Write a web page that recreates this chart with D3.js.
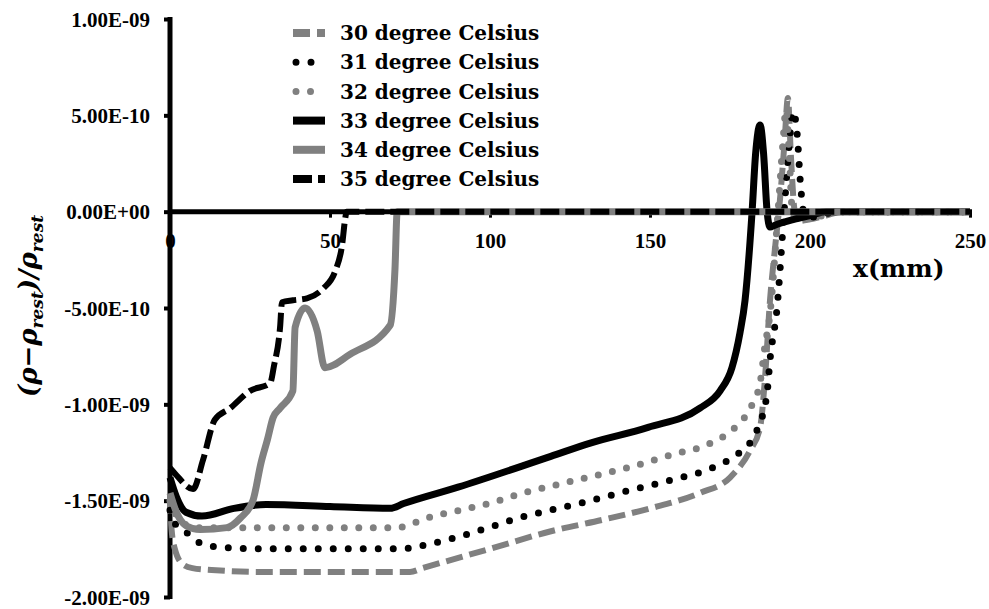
<!DOCTYPE html>
<html>
<head>
<meta charset="utf-8">
<script src="https://cdn.jsdelivr.net/npm/d3@7/dist/d3.min.js"></script>
<style>
  html, body { margin: 0; padding: 0; background: #fff; }
  svg { display: block; }
</style>
</head>
<body>
<svg id="chart" width="989" height="609"></svg>
<script>
// ---------------- DATA ----------------
// x in mm, y = (rho - rho_rest)/rho_rest
const seriesNames = ["30 degree Celsius", "31 degree Celsius", "32 degree Celsius",
                     "33 degree Celsius", "34 degree Celsius", "35 degree Celsius"];

const x30 = [0, 0.5, 1.5, 4, 7, 13, 30, 50, 75, 79, 100, 118.75, 135, 150, 165.6, 175, 181.25, 184.4, 186, 187.5, 189, 190.6, 192, 193.1, 194, 195, 196, 200, 205, 210, 250];
const y30 = [-14.8e-10, -16.5e-10, -17.5e-10, -18.3e-10, -18.5e-10, -18.6e-10, -18.7e-10, -18.7e-10, -18.7e-10, -18.5e-10, -17.5e-10, -16.6e-10, -16.0e-10, -15.4e-10, -14.6e-10, -13.8e-10, -12.4e-10, -11.2e-10, -8.5e-10, -4.6e-10, -2.0e-10, 0.6e-10, 3.5e-10, 5.9e-10, 3.0e-10, 0.3e-10, -0.5e-10, -0.4e-10, -0.2e-10, 0, 0];

const x31 = [0, 2, 5.6, 9.4, 14.7, 30, 50, 72, 75.6, 79.7, 89.7, 99.4, 109, 118.75, 128.9, 142.8, 157.2, 167.8, 177.2, 181.25, 183.75, 186.6, 187.5, 189.7, 191.9, 193.5, 194.7, 196, 197, 198, 200, 205, 210, 250];
const y31 = [-15.5e-10, -16.3e-10, -16.7e-10, -17.2e-10, -17.4e-10, -17.5e-10, -17.5e-10, -17.5e-10, -17.45e-10, -17.3e-10, -16.9e-10, -16.4e-10, -15.9e-10, -15.5e-10, -15.1e-10, -14.5e-10, -13.9e-10, -13.4e-10, -12.6e-10, -12.0e-10, -11.2e-10, -9.4e-10, -7.7e-10, -5.0e-10, 0, 3.5e-10, 5.2e-10, 4.0e-10, 1.5e-10, 0, -0.3e-10, -0.1e-10, 0, 0];

const x32 = [0, 3, 8, 20, 50, 70.9, 75.6, 80.3, 90.6, 100.6, 110.3, 120.3, 130.3, 142.8, 157.2, 167.8, 176.6, 180.3, 182.5, 184.4, 185.9, 187.5, 190, 191.5, 192.5, 193.5, 194.5, 196, 202, 208, 250];
const y32 = [-15.0e-10, -16.0e-10, -16.4e-10, -16.4e-10, -16.4e-10, -16.4e-10, -16.2e-10, -15.9e-10, -15.5e-10, -15.1e-10, -14.6e-10, -14.2e-10, -13.8e-10, -13.3e-10, -12.6e-10, -12.1e-10, -11.2e-10, -10.5e-10, -9.8e-10, -8.9e-10, -7.0e-10, -5.3e-10, 0, 3.5e-10, 5.3e-10, 3.0e-10, 0, -0.4e-10, -0.3e-10, 0, 0];

const x33 = [0, 2, 5, 10, 20, 30, 50, 68.8, 73, 90, 119, 131.6, 149.4, 165.6, 171.9, 175.6, 178.1, 179.7, 181.9, 183, 184.4, 185.5, 186.6, 187.5, 189, 195, 200, 205, 250];
const y33 = [-13.8e-10, -14.8e-10, -15.6e-10, -15.8e-10, -15.4e-10, -15.2e-10, -15.3e-10, -15.4e-10, -15.15e-10, -14.3e-10, -12.7e-10, -12.0e-10, -11.2e-10, -10.2e-10, -9.3e-10, -8.1e-10, -6.3e-10, -4.6e-10, 0, 3.0e-10, 4.5e-10, 3.0e-10, 0, -0.8e-10, -0.7e-10, -0.4e-10, -0.2e-10, 0, 0];

const x34 = [0, 2, 5, 9.4, 17.8, 22, 25.9, 28.5, 30.5, 32.2, 34.4, 38.4, 39.1, 42.2, 46, 48.4, 56.3, 68.8, 70.3, 71, 250];
const y34 = [-14.6e-10, -15.6e-10, -16.3e-10, -16.5e-10, -16.4e-10, -15.9e-10, -15.0e-10, -13.0e-10, -11.8e-10, -10.7e-10, -10.2e-10, -9.3e-10, -6.0e-10, -5.0e-10, -6.2e-10, -8.1e-10, -7.4e-10, -5.9e-10, -3.0e-10, 0, 0];

const x35 = [0, 1.6, 7.2, 10.3, 14, 18.8, 25, 31.3, 32.5, 34.4, 35.0, 38.4, 42.8, 47.8, 51.6, 53.8, 54.8, 55.2, 250];
const y35 = [-13.3e-10, -13.6e-10, -14.4e-10, -12.9e-10, -10.8e-10, -10.2e-10, -9.3e-10, -8.9e-10, -8.0e-10, -6.0e-10, -4.7e-10, -4.6e-10, -4.5e-10, -4.0e-10, -3.1e-10, -1.7e-10, -0.3e-10, 0, 0];

const xTicks = [0, 50, 100, 150, 200, 250];
const xTickLabels = ["0", "50", "100", "150", "200", "250"];
const yTicks = [-2e-9, -1.5e-9, -1e-9, -5e-10, 0, 5e-10, 1e-9];
const yTickLabels = ["-2.00E-09", "-1.50E-09", "-1.00E-09", "-5.00E-10", "0.00E+00", "5.00E-10", "1.00E-09"];

// ---------------- STYLES ----------------
const styles = [
  { color: "#808080", width: 6, dash: "17,7", cap: "butt" },
  { color: "#000000", width: 7, dash: "0,15", cap: "round" },
  { color: "#808080", width: 7, dash: "0,14.5", cap: "round" },
  { color: "#000000", width: 7, dash: null, cap: "butt" },
  { color: "#808080", width: 7, dash: null, cap: "butt" },
  { color: "#000000", width: 6, dash: "19,6", cap: "butt" }
];

const series = [
  { xs: x30, ys: y30 }, { xs: x31, ys: y31 }, { xs: x32, ys: y32 },
  { xs: x33, ys: y33 }, { xs: x34, ys: y34 }, { xs: x35, ys: y35 }
];

// ---------------- LAYOUT ----------------
const svg = d3.select("#chart");
const x = d3.scaleLinear().domain([0, 250]).range([170, 970]);
const y = d3.scaleLinear().domain([-2e-9, 1e-9]).range([597, 19]);

const tickFont = "'Liberation Serif', 'Times New Roman', serif";
const labFont = "'DejaVu Serif', serif";

// X axis at y = 0
const xAxis = svg.append("g")
  .attr("transform", `translate(0,${y(0)})`)
  .call(d3.axisBottom(x).tickValues(xTicks).tickFormat((d, i) => xTickLabels[i])
        .tickSizeInner(6).tickSizeOuter(0));
xAxis.select(".domain").attr("stroke", "#000").attr("stroke-width", 5)
  .attr("d", `M${x(0)},0H${x(250) + 2}`);
xAxis.selectAll(".tick line").attr("stroke", "#000").attr("stroke-width", 3);
xAxis.selectAll(".tick text")
  .attr("y", 36).attr("dy", 0)
  .attr("font-family", tickFont).attr("font-weight", "bold").attr("font-size", 21)
  .attr("fill", "#000");

// Y axis
const yAxis = svg.append("g")
  .attr("transform", `translate(${x(0)},0)`)
  .call(d3.axisLeft(y).tickValues(yTicks).tickFormat((d, i) => yTickLabels[i])
        .tickSizeInner(6).tickSizeOuter(0));
yAxis.select(".domain").attr("stroke", "#000").attr("stroke-width", 5)
  .attr("d", `M0,${y(1e-9) - 2}V${y(-2e-9) + 2}`);
yAxis.selectAll(".tick line").attr("stroke", "#000").attr("stroke-width", 4);
yAxis.selectAll(".tick text")
  .attr("x", -20).attr("dy", "0.34em")
  .attr("font-family", tickFont).attr("font-weight", "bold").attr("font-size", 21)
  .attr("fill", "#000");

// Lines
const line = d3.line().x(d => x(d[0])).y(d => y(d[1])).curve(d3.curveMonotoneX);
const plot = svg.append("g");
series.forEach((s, i) => {
  const pts = s.xs.map((v, k) => [v, s.ys[k]]);
  const st = styles[i];
  plot.append("path")
    .datum(pts)
    .attr("d", line)
    .attr("fill", "none")
    .attr("stroke", st.color)
    .attr("stroke-width", st.width)
    .attr("stroke-linecap", st.cap)
    .attr("stroke-linejoin", "round")
    .attr("stroke-dasharray", st.dash);
});

// Legend
const leg = svg.append("g");
seriesNames.forEach((name, i) => {
  const st = styles[i];
  const cy = 33 + i * 29.2;
  const round = st.cap === "round";
  leg.append("line")
    .attr("x1", round ? 296 : 293).attr("x2", 325)
    .attr("y1", cy).attr("y2", cy)
    .attr("stroke", st.color)
    .attr("stroke-width", round ? 7 : 8)
    .attr("stroke-linecap", st.cap)
    .attr("stroke-dasharray", st.dash);
  leg.append("text")
    .attr("x", 340).attr("y", cy).attr("dy", "0.36em")
    .attr("font-family", labFont).attr("font-weight", "bold").attr("font-size", 20)
    .attr("fill", "#000")
    .text(name);
});

// Axis titles
svg.append("text")
  .attr("x", 853).attr("y", 277)
  .attr("font-family", labFont).attr("font-weight", "bold").attr("font-size", 25)
  .attr("fill", "#000")
  .text("x(mm)");

const yt = svg.append("text")
  .attr("transform", `translate(37,306) rotate(-90)`)
  .attr("text-anchor", "middle")
  .attr("font-family", labFont).attr("font-weight", "bold").attr("font-style", "italic")
  .attr("font-size", 26).attr("fill", "#000");
yt.append("tspan").text("(ρ−ρ");
yt.append("tspan").attr("font-size", 17).attr("dy", 6).text("rest");
yt.append("tspan").attr("dy", -6).text(")/ρ");
yt.append("tspan").attr("font-size", 17).attr("dy", 6).text("rest");
</script>
</body>
</html>
